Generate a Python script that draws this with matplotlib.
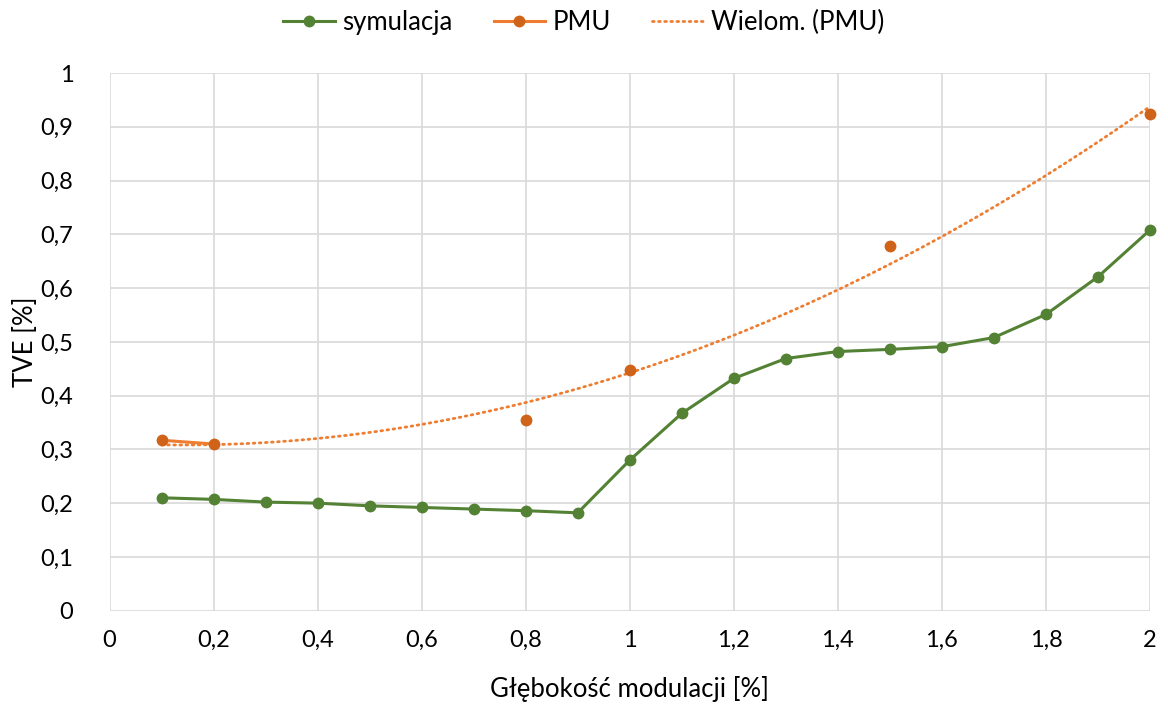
import numpy as np
import matplotlib
matplotlib.use("Agg")
import matplotlib.pyplot as plt
from matplotlib.ticker import FuncFormatter, MultipleLocator

plt.rcParams['font.family'] = ['Lato', 'DejaVu Sans']

# Modulation depth [%]
depth = [0.1, 0.2, 0.3, 0.4, 0.5, 0.6, 0.7, 0.8, 0.9, 1.0,
         1.1, 1.2, 1.3, 1.4, 1.5, 1.6, 1.7, 1.8, 1.9, 2.0]
# TVE from simulation [%]
tve_sim = [0.210, 0.207, 0.202, 0.200, 0.195, 0.192, 0.189, 0.186, 0.182, 0.280,
           0.367, 0.432, 0.469, 0.482, 0.486, 0.491, 0.508, 0.551, 0.621, 0.708]
# TVE measured by the PMU [%] (missing measurements as NaN)
tve_pmu = [0.317, 0.310, np.nan, np.nan, np.nan, np.nan, np.nan, 0.354, np.nan, 0.447,
           np.nan, np.nan, np.nan, np.nan, 0.678, np.nan, np.nan, np.nan, np.nan, 0.923]

labels = ["symulacja", "PMU", "Wielom. (PMU)"]

green = "#548235"
orange = "#ED7D31"
orange_dark = "#D0631A"
grid_c = "#D9D9D9"

fig = plt.figure(figsize=(11.68, 7.06), dpi=100)
ax = fig.add_axes([0.0938, 0.135, 0.8908, 0.7616])

x = np.array(depth)
y_pmu = np.array(tve_pmu)

ax.plot(x, tve_sim, color=green, lw=2.2, marker="o", ms=7.5,
        mfc=green, mec=green, label=labels[0], clip_on=False, zorder=4)
ax.plot(x, y_pmu, color=orange, lw=2.2, marker="o", ms=7.5,
        mfc=orange_dark, mec=orange_dark, label=labels[1], clip_on=False, zorder=4)

# second-order polynomial trend of the PMU measurements
mask = ~np.isnan(y_pmu)
coef = np.polyfit(x[mask], y_pmu[mask], 2)
xt = np.linspace(x[mask].min(), x[mask].max(), 300)
ax.plot(xt, np.polyval(coef, xt), color=orange, lw=2.0,
        linestyle=(0, (0.6, 1.6)), dash_capstyle="round",
        label=labels[2], clip_on=False, zorder=3)

ax.set_xlim(0, 2)
ax.set_ylim(0, 1)
ax.xaxis.set_major_locator(MultipleLocator(0.2))
ax.yaxis.set_major_locator(MultipleLocator(0.1))

def comma(v, pos):
    s = f"{v:.1f}".rstrip("0").rstrip(".")
    return s.replace(".", ",")

ax.xaxis.set_major_formatter(FuncFormatter(comma))
ax.yaxis.set_major_formatter(FuncFormatter(comma))

ax.grid(True, color=grid_c, lw=1.2)
ax.set_axisbelow(True)
for s in ax.spines.values():
    s.set_visible(False)
ax.tick_params(length=0, labelsize=17, colors="#000000", pad=14)
ax.tick_params(axis="y", pad=26)

ax.set_xlabel("Głębokość modulacji [%]", fontsize=18.5, labelpad=18)
ax.set_ylabel("TVE [%]", fontsize=18.5, labelpad=2)

leg = fig.legend(loc="center", bbox_to_anchor=(0.5, 0.968), ncol=3,
                 frameon=False, fontsize=18.5, handlelength=2.0,
                 columnspacing=1.6, handletextpad=0.3, borderpad=0.2)

fig.savefig("out.png", dpi=100)
